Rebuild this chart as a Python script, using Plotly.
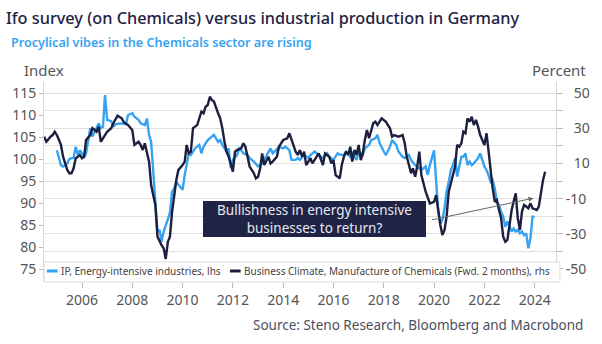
import plotly.graph_objects as go

# ---------------- data ----------------
ip_dates = ["2005-01","2005-03","2005-04","2005-05","2005-06","2005-07","2005-09","2005-10","2005-11","2005-12",
"2006-02","2006-03","2006-05","2006-06","2006-08","2006-09","2006-10","2006-11","2006-12",
"2007-01","2007-03","2007-04","2007-05","2007-07","2007-10","2007-11",
"2008-01","2008-02","2008-04","2008-05","2008-07","2008-08","2008-09","2008-10","2008-11","2008-12",
"2009-01","2009-02","2009-03","2009-04","2009-06","2009-07","2009-08","2009-09","2009-10","2009-11",
"2010-01","2010-02","2010-03","2010-04","2010-05","2010-07","2010-08","2010-09","2010-10","2010-11",
"2011-01","2011-02","2011-04","2011-05","2011-06","2011-07","2011-08","2011-10","2011-11","2011-12",
"2012-01","2012-03","2012-04","2012-05","2012-06","2012-08","2012-09","2012-11",
"2013-01","2013-03","2013-04","2013-05","2013-07","2013-08","2013-09","2013-11",
"2014-01","2014-02","2014-04","2014-05","2014-07","2014-08","2014-09","2014-11",
"2015-01","2015-02","2015-04","2015-05","2015-07","2015-08","2015-10","2015-11",
"2016-01","2016-03","2016-04","2016-06","2016-07","2016-09","2016-10","2016-12",
"2017-01","2017-03","2017-04","2017-06","2017-07","2017-09","2017-10","2017-11",
"2018-01","2018-02","2018-04","2018-05","2018-07","2018-08","2018-10","2018-11",
"2019-01","2019-02","2019-04","2019-05","2019-07","2019-08","2019-09","2019-10","2019-11",
"2020-01","2020-02","2020-03","2020-04","2020-05","2020-06","2020-07","2020-08","2020-09","2020-10","2020-11","2020-12",
"2021-02","2021-03","2021-04","2021-05","2021-06","2021-07","2021-08","2021-10","2021-11",
"2022-01","2022-02","2022-03","2022-04","2022-05","2022-06","2022-07","2022-08","2022-09","2022-10","2022-11","2022-12",
"2023-01","2023-02","2023-03","2023-04","2023-05","2023-06","2023-07","2023-08","2023-09","2023-10","2023-11","2023-12",
"2024-01"]
ip_values = [102.0,98.6,98.3,98.6,99.0,100.0,100.3,102.8,100.9,102.0,
100.5,101.3,107.0,105.1,107.0,108.1,107.0,107.3,114.5,
108.9,108.6,107.3,107.9,108.1,107.9,110.0,
110.4,109.6,108.9,108.1,107.7,109.2,105.5,103.9,97.1,90.3,
83.5,83.9,81.2,83.5,86.5,87.7,92.6,93.3,94.8,94.1,
93.0,96.4,98.6,101.3,100.9,102.4,102.8,103.2,101.3,102.8,
104.3,104.7,105.5,104.7,103.9,104.3,103.2,101.7,102.4,97.9,
99.8,100.9,102.4,102.0,101.3,100.9,100.2,99.4,
98.3,99.0,99.8,100.5,102.4,101.3,101.7,102.8,
102.4,102.8,102.0,99.8,99.8,100.2,99.8,100.9,
100.2,100.9,101.7,101.3,100.5,100.2,101.3,100.5,
99.8,101.3,101.0,100.9,101.7,100.5,101.3,99.8,
101.7,100.9,102.4,103.2,104.3,104.7,105.5,103.6,
101.7,100.9,102.8,104.3,103.2,101.7,100.5,100.2,
100.9,99.8,98.6,98.3,97.5,97.9,98.3,96.4,98.6,
102.0,94.8,88.0,85.4,86.1,88.8,92.6,94.8,97.5,98.6,100.2,96.0,
100.5,100.5,101.3,98.6,99.4,98.6,99.0,100.2,101.3,
98.3,97.5,96.4,94.8,95.2,93.3,90.3,89.5,88.0,86.9,84.6,85.8,
84.8,83.5,84.2,83.5,83.9,83.1,83.5,82.7,83.1,79.7,82.0,86.9,
86.9]

ifo_dates = ["2004-07","2004-08","2004-10","2004-11","2004-12",
"2005-01","2005-02","2005-03","2005-04","2005-06","2005-07","2005-08","2005-09","2005-10","2005-11","2005-12",
"2006-01","2006-02","2006-03","2006-05","2006-06","2006-08","2006-09","2006-10","2006-12",
"2007-01","2007-03","2007-04","2007-06","2007-08","2007-09","2007-11",
"2008-01","2008-02","2008-04","2008-05","2008-06","2008-07","2008-09","2008-10","2008-12",
"2009-01","2009-03","2009-04","2009-05","2009-06","2009-07","2009-08","2009-10","2009-11",
"2010-01","2010-02","2010-03","2010-04","2010-05","2010-06","2010-07","2010-08","2010-10","2010-11","2010-12",
"2011-01","2011-02","2011-03","2011-04","2011-05","2011-06","2011-07","2011-08","2011-09","2011-10","2011-11",
"2012-01","2012-02","2012-03","2012-05","2012-06","2012-07","2012-08","2012-09","2012-10","2012-11","2012-12",
"2013-01","2013-02","2013-03","2013-04","2013-06","2013-07","2013-08","2013-10","2013-11",
"2014-01","2014-03","2014-04","2014-06","2014-07","2014-08","2014-09","2014-10","2014-11","2014-12",
"2015-02","2015-03","2015-05","2015-06","2015-08","2015-09","2015-11","2015-12",
"2016-01","2016-02","2016-04","2016-05","2016-06","2016-07","2016-08","2016-09","2016-10","2016-11","2016-12",
"2017-01","2017-02","2017-03","2017-04","2017-05","2017-06","2017-08","2017-09","2017-10","2017-12",
"2018-02","2018-03","2018-04","2018-05","2018-06","2018-08","2018-10","2018-11","2018-12",
"2019-01","2019-02","2019-03","2019-04","2019-05","2019-06","2019-07","2019-08","2019-09","2019-11",
"2020-01","2020-02","2020-03","2020-04","2020-05","2020-06","2020-07","2020-08","2020-10","2020-11","2020-12",
"2021-01","2021-02","2021-03","2021-04","2021-05","2021-06","2021-07","2021-08","2021-09","2021-10","2021-11",
"2022-01","2022-02","2022-03","2022-04","2022-05","2022-06","2022-07","2022-08","2022-09","2022-10","2022-11","2022-12",
"2023-01","2023-02","2023-03","2023-04","2023-05","2023-06","2023-07","2023-08","2023-09","2023-10","2023-11","2023-12",
"2024-01","2024-02","2024-03","2024-04","2024-05","2024-06"]
ifo_values = [25.2,22.3,25.2,26.1,28.0,
26.1,23.3,20.5,13.8,6.3,4.4,4.4,7.2,12.9,13.8,14.8,
12.9,13.8,23.3,26.1,30.0,28.0,30.9,22.3,26.1,
28.0,30.0,32.8,37.1,35.6,33.4,31.8,
29.0,20.5,22.3,20.5,17.6,21.4,11.0,-2.3,-13.6,
-31.6,-36.4,-38.2,-44.3,-34.5,-31.6,-17.5,0.4,6.3,
9.1,11.0,20.5,15.7,16.7,30.0,30.9,31.8,39.4,38.5,42.2,
43.2,47.9,46.0,45.1,41.3,38.5,35.6,30.0,22.3,16.7,13.8,
5.3,16.7,17.6,18.6,21.4,19.5,13.8,8.1,6.3,4.4,1.5,
2.4,7.2,15.7,9.1,13.8,10.0,11.0,13.8,19.5,
23.3,24.3,27.1,19.5,16.7,14.8,17.6,13.8,16.7,9.1,
12.9,10.0,13.8,15.7,9.1,15.7,13.8,10.0,
11.9,3.4,1.5,9.1,13.8,16.7,14.8,19.5,11.0,17.6,14.8,
20.5,11.9,15.7,23.3,29.0,24.3,32.8,33.7,31.8,35.6,
33.7,31.8,30.0,25.2,26.1,25.2,26.1,21.4,13.8,
9.1,4.4,7.2,2.4,8.1,16.7,3.4,-2.3,-6.1,-12.7,
-11.8,-8.0,-16.5,-25.0,-30.7,-27.8,-20.3,-6.1,3.4,8.1,20.5,
19.5,21.4,28.0,27.1,35.6,33.7,36.5,31.8,34.7,30.9,26.1,
20.5,27.1,17.6,4.4,-4.1,-11.8,-10.8,-16.5,-21.2,-31.6,-34.5,-33.5,
-24.0,-16.5,-11.8,-7.0,-21.2,-27.8,-17.4,-13.6,-14.5,-15.5,-12.7,-15.5,
-16.0,-16.5,-14.6,-6.1,0.4,5.3]

left_ticks = [75, 80, 85, 90, 95, 100, 105, 110, 115]
right_ticks = [-50, -30, -10, 10, 30, 50]
right_minor = [-40, -20, 0, 20, 40]
ip_name = "IP, Energy-intensive industries, lhs"
ifo_name = "Business Climate, Manufacture of Chemicals (Fwd. 2 months), rhs"

BLUE = "#36a2f2"
NAVY = "#1c1f3e"
GREY = "#595959"
FONT = "Noto Sans"
PW = 526.0   # plot width in px (for paper-relative placement of decorations)
PH = 200.0   # plot height in px

fig = go.Figure()
fig.add_trace(go.Scatter(x=ip_dates, y=ip_values, name=ip_name, mode="lines",
                         line=dict(color=BLUE, width=2.4), yaxis="y", showlegend=False))
fig.add_trace(go.Scatter(x=ifo_dates, y=ifo_values, name=ifo_name, mode="lines",
                         line=dict(color=NAVY, width=2.4), yaxis="y2", showlegend=False))

fig.update_layout(
    width=602, height=344,
    margin=dict(l=37, r=39, t=82, b=62),
    paper_bgcolor="white", plot_bgcolor="white",
    font=dict(family=FONT, color=GREY, size=12),
    showlegend=False,
    xaxis=dict(type="date", range=["2004-06-28", "2024-11-06"],
               tick0="2006-01-01", dtick="M24", tickformat="%Y",
               ticks="outside", ticklen=5, tickcolor="#bbbbbb",
               showgrid=False, showline=False,
               tickfont=dict(size=14, color="#555555"), zeroline=False),
    yaxis=dict(range=[72.045, 117.5], tickmode="array", tickvals=left_ticks,
               ticks="outside", ticklen=4, tickcolor="#bbbbbb",
               showgrid=False, zeroline=False, showline=True, linecolor="#d8d8d8",
               tickfont=dict(size=14, color="#555555")),
    yaxis2=dict(range=[-57.39, 56.25], overlaying="y", side="right",
                tickmode="array", tickvals=right_ticks,
                ticktext=[("-" + str(-v)) if v < 0 else ("\u2007" + str(v)) for v in right_ticks],
                ticks="outside", ticklen=6, tickcolor="#bbbbbb",
                showgrid=True, gridcolor="#e0e0e0", gridwidth=1.4,
                minor=dict(tickmode="array", tickvals=right_minor, ticks="outside",
                           ticklen=6, tickcolor="#bbbbbb", showgrid=True,
                           gridcolor="#e0e0e0", gridwidth=1.4),
                zeroline=False, showline=True, linecolor="#d8d8d8",
                tickfont=dict(size=14, color="#555555")),
    title=dict(text="Ifo survey (on Chemicals) versus industrial production in Germany",
               xref="container", yref="container", x=6/602, y=1-18/344,
               xanchor="left", yanchor="middle",
               font=dict(family=FONT, size=16.3, color="#1d2242", weight=500)),
)

# legend box (drawn as a framed strip at the bottom of the plot, like the original)
legend_top = (282 - 262) / PH
shapes = [
    dict(type="rect", xref="paper", yref="paper", x0=0, x1=530 / PW, y0=0, y1=legend_top,
         fillcolor="white", line=dict(color="#dcdcdc", width=1), layer="above"),
    dict(type="line", xref="paper", yref="paper", x0=3 / PW, x1=14 / PW,
         y0=11 / PH, y1=11 / PH, line=dict(color=BLUE, width=3), layer="above"),
    dict(type="line", xref="paper", yref="paper", x0=191 / PW, x1=202 / PW,
         y0=11 / PH, y1=11 / PH, line=dict(color=NAVY, width=3), layer="above"),
]

ann = [
    dict(text="Procylical vibes in the Chemicals sector are rising", xref="paper", yref="paper",
         x=-36 / PW, y=(282 - 42) / PH, xanchor="left", yanchor="middle", showarrow=False,
         font=dict(size=12.6, color=BLUE, weight=600)),
    dict(text="Index", xref="paper", yref="paper", x=0, y=(282 - 70) / PH, xanchor="center",
         yanchor="middle", showarrow=False, font=dict(size=15, color="#555555")),
    dict(text="Percent", xref="paper", yref="paper", x=559 / PW, y=(282 - 70) / PH, xanchor="right",
         yanchor="middle", showarrow=False, font=dict(size=15, color="#555555")),
    dict(text="Source: Steno Research, Bloomberg and Macrobond", xref="paper", yref="paper",
         x=556 / PW, y=(282 - 325) / PH, xanchor="right", yanchor="middle", showarrow=False,
         font=dict(size=13.5, color="#4a4f60")),
    dict(text=ip_name, xref="paper", yref="paper", x=15 / PW, y=11 / PH,
         xanchor="left", yanchor="middle", showarrow=False, font=dict(size=10, color="#444444")),
    dict(text=ifo_name, xref="paper", yref="paper", x=203 / PW, y=11 / PH,
         xanchor="left", yanchor="middle", showarrow=False, font=dict(size=10, color="#444444")),
    dict(text="Bullishness in energy intensive<br>businesses to return?", xref="x", yref="y",
         x="2015-03-25", y=86.4, xanchor="center", yanchor="middle", showarrow=False,
         width=219, height=32, bgcolor="#1f2447", bordercolor="#1f2447", borderpad=1,
         font=dict(size=13.5, color="#e8e8ee")),
    dict(text="", xref="x", yref="y", x="2023-12-15", y=91.1, axref="x", ayref="y",
         ax="2019-11-10", ay=86.1, showarrow=True, arrowhead=2, arrowsize=1,
         arrowwidth=1, arrowcolor="#666666"),
]
fig.update_layout(annotations=ann, shapes=shapes)

fig.write_html("out.html")
